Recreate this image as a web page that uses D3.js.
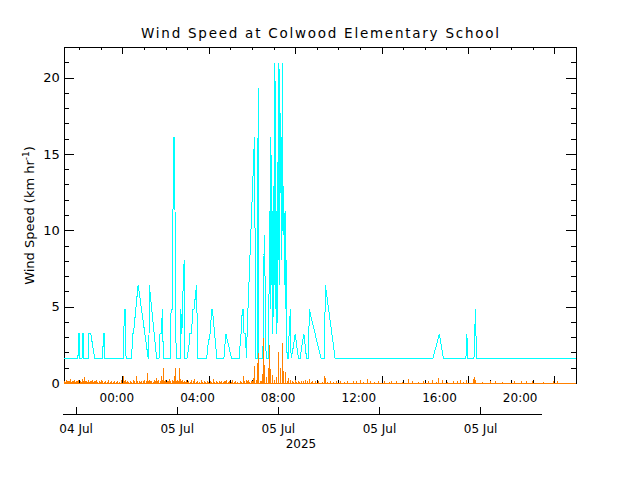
<!DOCTYPE html>
<html><head><meta charset="utf-8">
<script src="https://cdn.jsdelivr.net/npm/d3@7"></script>
<style>
body{margin:0;background:#fff}
svg{display:block;background:#fff}
</style></head><body>
<svg id="c" width="640" height="480"></svg>
<script>
const titleText = "Wind Speed at Colwood Elementary School";
const yLabelText = "Wind Speed (km hr";
const yLabelSup = "-1";
const timeLabels = ["00:00","04:00","08:00","12:00","16:00","20:00"];
const dateLabels = ["04 Jul","05 Jul","05 Jul","05 Jul","05 Jul"];
const yearLabel = "2025";
const yTickValues = [0,5,10,15,20];
const yRange = [0,22];
// minutes relative to 05 Jul 2025 00:00
const timeRangeMin = [-155.6, 1367.6];

// gust (km/h) : [minute, value]
const gust = [
[-156,1.61],
[-114,1.61],[-113,3.22],[-110,3.22],[-109,1.61],
[-102,1.61],[-101,3.22],[-98,3.22],[-97,1.61],
[-84,1.61],[-83,3.22],[-76,3.22],[-64,1.61],
[-40,1.61],[-39,3.22],[-36,3.22],[-35,1.61],
[21,1.61],[24,4.83],[27,4.83],[29,1.61],
[46,1.61],[48,3.22],[51,3.22],[65,6.44],[95,1.61],
[97,1.61],[98,6.44],[120,1.61],
[127,1.61],[130,3.22],[134,3.22],[137,4.83],[140,1.61],
[160,1.61],[163,4.83],[167,4.83],[170,16.09],[173,16.09],[178,1.61],
[190,1.61],[192,4.83],[195,3.22],[199,6.44],[202,8.05],[204,1.61],
[210,1.61],[216,2.41],[219,3.22],[224,3.22],[227,4.83],[231,4.83],[239,6.44],[242,1.61],
[269,1.61],[272,2.41],[279,3.22],[284,4.83],[286,4.83],[299,1.61],
[320,1.61],[326,3.22],[343,1.61],
[366,1.61],[368,2.41],[371,3.22],[375,4.83],[378,4.83],[380,3.22],[383,3.22],[388,1.61],
[389,3.22],[411,16.09],[415,1.61],
[420,1.61],[422,19.31],[424,1.61],
[436,1.61],[438,4.83],[440,9.66],[442,8.05],[444,3.22],[446,1.61],[452,1.61],
[454,4.83],[456,11.27],[458,4.83],[460,16.09],[462,6.44],[464,11.27],[466,3.22],
[468,12.87],[470,6.44],[472,20.92],[474,4.83],[476,11.27],[478,3.22],[480,14.48],
[482,8.05],[484,20.92],[486,6.44],[488,17.70],[490,16.09],[492,8.05],[494,20.92],
[496,9.66],[498,12.87],[500,6.44],[502,11.27],[504,4.83],[506,8.05],[508,1.61],
[512,1.61],[514,3.22],[518,4.83],[520,1.61],
[527,2.41],[532,3.22],[537,2.41],[542,1.61],[547,1.61],[552,2.41],[558,3.22],[566,1.61],
[572,1.61],[574,4.83],[609,1.61],
[619,1.61],[622,6.44],[651,1.61],
[942,1.61],[961,3.22],[973,1.61],
[1040,1.61],[1042,2.41],[1043,3.22],[1045,1.61],
[1064,1.61],[1066,2.41],[1068,4.83],[1070,3.22],[1072,1.61],
[1368,1.61]
];

// mean wind (km/h) spikes : [minute, value]
const meanSpikes = [
[-153,0.13],[-150,0.07],[-147,0.2],[-144,0.1],[-141,0.1],[-138,0.13],[-135,0.26],[-132,0.07],[-129,0.13],[-126,0.1],[-123,0.2],[-120,0.07],[-117,0.1],[-114,0.13],[-111,0.2],[-108,0.13],[-105,0.07],[-102,0.26],[-99,0.1],[-96,0.39],[-93,0.1],[-90,0.13],[-87,0.07],[-84,0.2],[-81,0.07],[-78,0.1],[-75,0.13],[-72,0.2],[-69,0.07],[-66,0.13],[-63,0.1],[-60,0.2],[-55,0.07],[-51,0.1],[-48,0.07],[-45,0.2],[-40,0.13],[-35,0.07],[-31,0.1],[-26,0.07],[-22,0.2],[-17,0.07],[-13,0.1],[-8,0.07],[-4,0.13],[0,0.07],[5,0.1],[9,0.07],[14,0.2],[20,0.46],[23,0.1],[26,0.2],[29,0.07],[32,0.13],[37,0.07],[41,0.1],[45,0.07],[50,0.2],[55,0.1],[59,0.46],[63,0.1],[68,0.13],[72,0.07],[76,0.1],[80,0.13],[85,0.2],[90,0.1],[94,0.66],[97,0.13],[100,0.2],[103,0.1],[106,0.13],[110,0.07],[115,0.2],[118,0.1],[121,0.33],[124,0.1],[127,0.2],[130,0.13],[133,0.44],[136,0.2],[139,0.98],[142,0.13],[145,0.2],[148,0.07],[151,0.13],[154,0.1],[157,0.26],[161,0.1],[166,0.2],[169,0.1],[172,0.46],[175,0.98],[178,0.13],[181,0.2],[184,0.1],[187,1.0],[190,0.13],[192,0.26],[195,0.1],[198,0.2],[201,0.07],[204,0.13],[207,0.07],[210,0.2],[213,0.07],[216,0.1],[220,0.07],[225,0.2],[229,0.1],[234,0.26],[238,0.07],[243,0.13],[247,0.07],[252,0.2],[256,0.07],[261,0.1],[265,0.07],[270,0.13],[274,0.07],[279,0.1],[283,0.07],[288,0.26],[292,0.07],[297,0.13],[301,0.07],[306,0.1],[310,0.07],[314,0.13],[318,0.07],[323,0.13],[326,0.1],[329,0.2],[333,0.07],[338,0.1],[342,0.07],[347,0.22],[351,0.07],[356,0.1],[362,0.07],[368,0.13],[372,0.07],[377,0.44],[381,0.1],[386,0.22],[389,0.1],[392,0.2],[396,0.07],[401,0.13],[404,0.1],
[407,0.3],[410,1.1],[416,0.2],[419,1.3],[422,1.97],[428,0.1],[433,0.13],[436,0.6],[439,2.95],[442,1.2],[448,0.4],[454,1.0],[457,2.5],[460,0.9],[466,0.5],[472,0.2],[478,0.4],[484,2.0],[487,1.0],[493,2.6],[496,0.8],[502,0.7],[508,0.1],[511,0.3],
[517,0.2],[523,0.1],[528,0.07],[532,0.2],[536,0.07],[541,0.13],[546,0.07],[550,0.1],[558,0.13],[564,0.2],[570,0.1],[576,0.26],[580,0.07],[585,0.1],[594,0.13],[603,0.1],[612,0.07],[618,0.44],[621,0.3],[628,0.07],[636,0.1],[645,0.07],[654,0.13],[668,0.1],[680,0.07],[689,0.1],[707,0.13],[716,0.1],[725,0.2],[734,0.07],[746,0.26],[755,0.13],[768,0.07],[779,0.1],[799,0.1],[812,0.07],[820,0.13],[835,0.1],[850,0.07],[868,0.26],[880,0.1],[898,0.07],[915,0.13],[930,0.1],[942,0.2],[952,0.07],[960,0.33],[969,0.2],[985,0.07],[1002,0.1],[1014,0.13],[1025,0.2],[1034,0.07],[1043,0.2],[1064,0.26],[1067,0.37],[1070,0.2],[1090,0.07],[1112,0.1],[1127,0.1],[1150,0.07],[1186,0.1],[1204,0.1],[1219,0.1],[1237,0.1],[1270,0.07],[1302,0.1],[1314,0.1]
];

const FONT = "'DejaVu Sans', sans-serif";
const svg = d3.select("#c");
const L = 64, R = 576, T = 47, B = 383;
const base = new Date(2025, 6, 5, 0, 0, 0);
const toDate = m => new Date(base.getTime() + m * 60000);

const x = d3.scaleTime().domain(timeRangeMin.map(toDate)).range([L, R]);
const y = d3.scaleLinear().domain(yRange).range([B, T]);
const tickScale = d3.scaleLinear().domain([-2.7, 21.0]).range([L, R]);
const dayScale = d3.scaleLinear().domain([-0.128, 4.603]).range([62.7, 541]);

function style(g, size) {
  g.attr("font-family", FONT).attr("font-size", size || 12);
  g.selectAll("path,line").attr("stroke", "#000").attr("shape-rendering", "crispEdges");
  g.selectAll("text").attr("fill", "#000");
}

// title
svg.append("text").attr("x", 320).attr("y", 37.5).attr("text-anchor", "middle")
  .attr("font-family", FONT).attr("font-size", 13.5)
  .attr("textLength", 358).attr("lengthAdjust", "spacing")
  .text(titleText);

// bottom & top frame ticks
const minorX = d3.range(-2, 22), majorX = d3.range(0, 21, 4);
svg.append("g").attr("transform", `translate(0,${B})`)
  .call(d3.axisBottom(tickScale).tickValues(minorX).tickSizeInner(-3.4).tickSizeOuter(0).tickFormat(""))
  .call(style);
svg.append("g").attr("transform", `translate(0,${B})`)
  .call(d3.axisBottom(tickScale).tickValues(majorX).tickSizeInner(-6.7).tickSizeOuter(0).tickFormat(""))
  .call(style);
svg.append("g").attr("transform", `translate(0,${T})`)
  .call(d3.axisTop(tickScale).tickValues(minorX).tickSizeInner(-3.4).tickSizeOuter(0).tickFormat(""))
  .call(style);
svg.append("g").attr("transform", `translate(0,${T})`)
  .call(d3.axisTop(tickScale).tickValues(majorX).tickSizeInner(-6.7).tickSizeOuter(0).tickFormat(""))
  .call(style);

// left & right
const minorY = d3.range(0, 23);
svg.append("g").attr("transform", `translate(${L},0)`)
  .call(d3.axisLeft(y).tickValues(minorY).tickSizeInner(-5.1).tickSizeOuter(0).tickFormat(""))
  .call(style);
svg.append("g").attr("transform", `translate(${L},0)`)
  .call(d3.axisLeft(y).tickValues(yTickValues).tickSizeInner(-10.2).tickSizeOuter(0).tickPadding(4.3).tickFormat(d => String(d)))
  .call(g => style(g, 13));
svg.append("g").attr("transform", `translate(${R},0)`)
  .call(d3.axisRight(y).tickValues(minorY).tickSizeInner(-5.1).tickSizeOuter(0).tickFormat(""))
  .call(style);
svg.append("g").attr("transform", `translate(${R},0)`)
  .call(d3.axisRight(y).tickValues(yTickValues).tickSizeInner(-10.2).tickSizeOuter(0).tickFormat(""))
  .call(style);

// time labels
const labelDates = timeLabels.map(s => { const [h, mm] = s.split(":").map(Number); return toDate(h * 60 + mm); });
svg.append("g").attr("transform", `translate(0,${B})`)
  .call(d3.axisBottom(x).tickValues(labelDates).tickFormat((d, i) => timeLabels[i]).tickSize(0).tickPadding(10.2))
  .call(g => g.select(".domain").remove())
  .call(style);

// date axis
svg.append("g").attr("transform", "translate(0,414)")
  .call(d3.axisBottom(dayScale).tickValues(d3.range(dateLabels.length)).tickFormat(i => dateLabels[i])
    .tickSizeInner(-7).tickSizeOuter(0).tickPadding(10.8))
  .call(style);
svg.append("text").attr("x", 301).attr("y", 448).attr("text-anchor", "middle")
  .attr("font-family", FONT).attr("font-size", 12).text(yearLabel);

// y label
const yl = svg.append("text").attr("transform", "translate(34,215.5) rotate(-90)")
  .attr("text-anchor", "middle").attr("font-family", FONT).attr("font-size", 13);
yl.append("tspan").text(yLabelText);
yl.append("tspan").attr("font-size", 9).attr("dy", -5).text(yLabelSup);
yl.append("tspan").attr("dy", 5).text(")");

// clip
svg.append("clipPath").attr("id", "clip").append("rect")
  .attr("x", L).attr("y", T - 1).attr("width", R - L).attr("height", B - T + 2);
const plot = svg.append("g").attr("clip-path", "url(#clip)");

const line = d3.line().x(d => x(toDate(d[0]))).y(d => y(d[1]));
plot.append("path").datum(gust).attr("d", line)
  .attr("fill", "none").attr("stroke", "#00FFFF").attr("stroke-width", 1)
  .attr("shape-rendering", "crispEdges");

const meanPts = [[timeRangeMin[0], 0]]
  .concat(meanSpikes.flatMap(([m, v]) => [[m, 0], [m, v], [m, 0]]))
  .concat([[timeRangeMin[1], 0]]);
plot.append("path").datum(meanPts).attr("d", line)
  .attr("fill", "none").attr("stroke", "#FF8000").attr("stroke-width", 1)
  .attr("shape-rendering", "crispEdges");
</script>
</body></html>
